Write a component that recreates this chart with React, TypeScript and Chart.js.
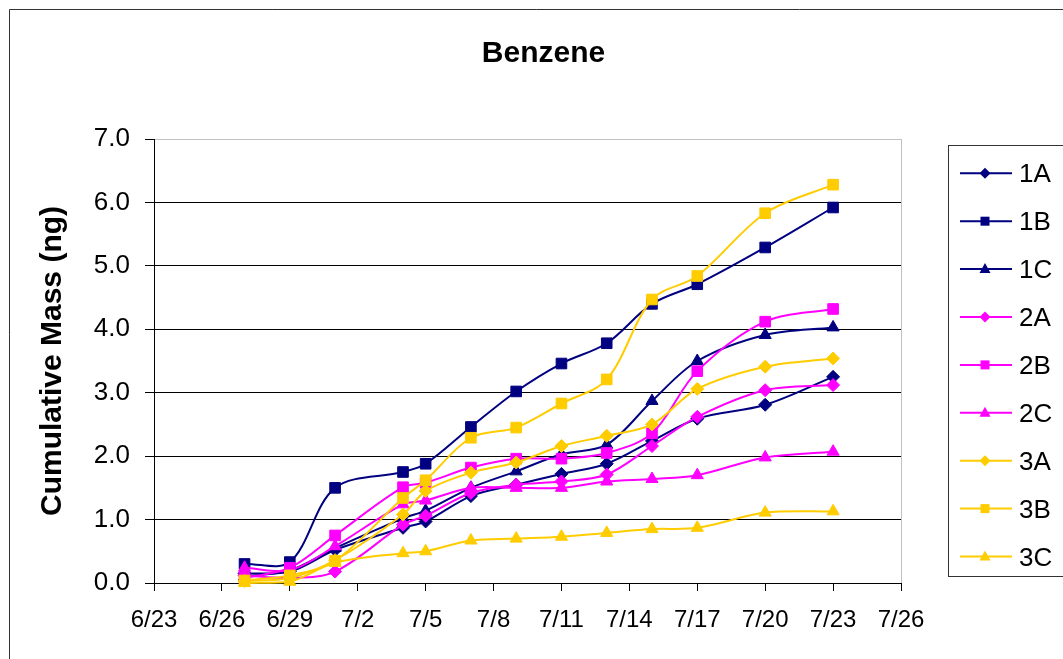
import React, { useEffect, useRef } from "react";
import { Chart, registerables } from "chart.js";

Chart.register(...registerables);

// ---- data ----
const dates = ["6/27", "6/29", "7/1", "7/4", "7/5", "7/7", "7/9", "7/11", "7/13", "7/15", "7/17", "7/20", "7/23"];
const xTickLabels = ["6/23", "6/26", "6/29", "7/2", "7/5", "7/8", "7/11", "7/14", "7/17", "7/20", "7/23", "7/26"];
const yTickMax = 7;

const s1A = [0.15, 0.18, 0.52, 0.87, 0.97, 1.37, 1.55, 1.72, 1.88, 2.24, 2.59, 2.81, 3.25];
const s1B = [0.30, 0.33, 1.50, 1.75, 1.88, 2.46, 3.02, 3.46, 3.78, 4.40, 4.71, 5.29, 5.92];
const s1C = [0.10, 0.20, 0.55, 1.02, 1.14, 1.50, 1.76, 2.03, 2.18, 2.87, 3.50, 3.91, 4.03];
const s2A = [0.12, 0.08, 0.18, 0.92, 1.06, 1.42, 1.55, 1.60, 1.71, 2.16, 2.62, 3.04, 3.12];
const s2B = [0.08, 0.24, 0.75, 1.51, 1.58, 1.82, 1.96, 1.96, 2.05, 2.36, 3.34, 4.12, 4.32];
const s2C = [0.24, 0.20, 0.58, 1.24, 1.30, 1.50, 1.50, 1.50, 1.60, 1.64, 1.70, 1.98, 2.07];
const s3A = [0.03, 0.08, 0.36, 1.08, 1.45, 1.74, 1.90, 2.16, 2.32, 2.50, 3.06, 3.41, 3.54];
const s3B = [0.04, 0.12, 0.35, 1.34, 1.62, 2.29, 2.45, 2.83, 3.21, 4.47, 4.84, 5.83, 6.28];
const s3C = [0.00, 0.02, 0.32, 0.47, 0.50, 0.67, 0.70, 0.73, 0.79, 0.85, 0.87, 1.11, 1.13];

const seriesNames = ["1A", "1B", "1C", "2A", "2B", "2C", "3A", "3B", "3C"];
const seriesValues = [s1A, s1B, s1C, s2A, s2B, s2C, s3A, s3B, s3C];

const NAVY = "#000080";
const MAGENTA = "#FF00FF";
const GOLD = "#FFCC00";
const seriesColors = [NAVY, NAVY, NAVY, MAGENTA, MAGENTA, MAGENTA, GOLD, GOLD, GOLD];
const seriesShapes = ["rectRot", "rect", "triangle", "rectRot", "rect", "triangle", "rectRot", "rect", "triangle"];

const FONT = "'Liberation Sans', Arial, Helvetica, sans-serif";

function dayOf(label: string): number {
  const [m, d] = label.split("/").map(Number);
  return m === 6 ? d : 30 + d;
}

function drawMarker(ctx: CanvasRenderingContext2D, shape: string, x: number, y: number, color: string) {
  ctx.save();
  ctx.fillStyle = color;
  ctx.beginPath();
  if (shape === "rect") {
    ctx.rect(x - 4.5, y - 4.5, 9, 9);
  } else if (shape === "rectRot") {
    ctx.moveTo(x, y - 5.5);
    ctx.lineTo(x + 5.5, y);
    ctx.lineTo(x, y + 5.5);
    ctx.lineTo(x - 5.5, y);
    ctx.closePath();
  } else {
    ctx.moveTo(x, y - 6);
    ctx.lineTo(x + 5.5, y + 4);
    ctx.lineTo(x - 5.5, y + 4);
    ctx.closePath();
  }
  ctx.fill();
  ctx.restore();
}

const decorPlugin = {
  id: "decor",
  beforeDatasetsDraw(chart: any) {
    const { ctx, chartArea } = chart;
    ctx.save();
    ctx.strokeStyle = "#c0c0c0";
    ctx.lineWidth = 1;
    ctx.beginPath();
    ctx.moveTo(chartArea.right + 0.5, chartArea.top);
    ctx.lineTo(chartArea.right + 0.5, chartArea.bottom);
    ctx.stroke();
    ctx.restore();
  },
  afterDraw(chart: any) {
    const { ctx } = chart;
    ctx.save();
    // outer chart border
    ctx.strokeStyle = "#333";
    ctx.lineWidth = 1;
    ctx.beginPath();
    ctx.moveTo(9.5, 659);
    ctx.lineTo(9.5, 9.5);
    ctx.lineTo(1063, 9.5);
    ctx.stroke();

    // title
    ctx.fillStyle = "#000";
    ctx.font = `bold 30px ${FONT}`;
    ctx.textAlign = "center";
    ctx.textBaseline = "alphabetic";
    ctx.fillText("Benzene", 543.5, 62);

    // legend
    ctx.strokeStyle = "#333";
    ctx.strokeRect(948.5, 145.5, 200, 431);
    ctx.font = `26px ${FONT}`;
    ctx.textAlign = "left";
    seriesNames.forEach((name, i) => {
      const y = 173.3 + i * 47.9;
      ctx.strokeStyle = seriesColors[i];
      ctx.lineWidth = 2;
      ctx.beginPath();
      ctx.moveTo(960, y);
      ctx.lineTo(1012, y);
      ctx.stroke();
      drawMarker(ctx, seriesShapes[i], 985, y, seriesColors[i]);
      ctx.fillStyle = "#000";
      ctx.fillText(name, 1019, y + 9);
    });
    ctx.restore();
  },
};

export default function App() {
  const ref = useRef<HTMLCanvasElement | null>(null);

  useEffect(() => {
    if (!ref.current) return;
    const xs = dates.map(dayOf);
    const xMin = dayOf(xTickLabels[0]);
    const xMax = dayOf(xTickLabels[xTickLabels.length - 1]);

    const datasets = seriesNames.map((name, i) => ({
      label: name,
      data: seriesValues[i].map((v, j) => ({ x: xs[j], y: v })),
      borderColor: seriesColors[i],
      backgroundColor: seriesColors[i],
      pointBackgroundColor: seriesColors[i],
      pointBorderColor: seriesColors[i],
      pointBorderWidth: 1,
      pointStyle: seriesShapes[i],
      pointRadius: seriesShapes[i] === "rect" ? 7.5 : seriesShapes[i] === "rectRot" ? 6.5 : 7,
      borderWidth: 2,
      tension: 0.33,
      fill: false,
      clip: false as any,
      order: seriesNames.length - 1 - i,
    }));

    const chart = new Chart(ref.current, {
      type: "line",
      data: { datasets },
      plugins: [decorPlugin],
      options: {
        animation: false,
        responsive: false,
        devicePixelRatio: 1,
        layout: { padding: { left: 35, right: 162, top: 139, bottom: 0 } },
        plugins: {
          legend: { display: false },
          title: { display: false },
          tooltip: { enabled: false },
        },
        scales: {
          x: {
            type: "linear",
            min: xMin,
            max: xMax,
            afterFit: (s: any) => {
              s.height = 76;
            },
            afterBuildTicks: (s: any) => {
              s.ticks = xTickLabels.map((l) => ({ value: dayOf(l) }));
            },
            ticks: {
              autoSkip: false,
              maxRotation: 0,
              padding: 15,
              color: "#000",
              font: { family: FONT, size: 24 },
              callback: (v: any) => {
                const idx = xTickLabels.findIndex((l) => dayOf(l) === v);
                return idx >= 0 ? xTickLabels[idx] : "";
              },
            },
            grid: {
              drawOnChartArea: false,
              drawTicks: true,
              tickLength: 8,
              tickColor: "#000",
              color: "#000",
            },
            border: { display: true, color: "#000", width: 1 },
          },
          y: {
            min: 0,
            max: yTickMax,
            afterFit: (s: any) => {
              s.width = 119;
            },
            ticks: {
              stepSize: 1,
              padding: 15,
              color: "#000",
              font: { family: FONT, size: 26 },
              callback: (v: any) => Number(v).toFixed(1),
            },
            grid: {
              color: (c: any) => (c.tick && c.tick.value === yTickMax ? "#c0c0c0" : "#000"),
              tickColor: "#000",
              tickLength: 9,
              lineWidth: 1,
            },
            border: { display: true, color: "#000", width: 1 },
            title: {
              display: true,
              text: "Cumulative Mass (ng)",
              color: "#000",
              padding: { top: 0, bottom: 0 },
              font: { family: FONT, size: 30, weight: "bold" },
            },
          },
        },
      },
    } as any);

    return () => chart.destroy();
  }, []);

  return (
    <div>
      <canvas
        ref={ref}
        width={1063}
        height={659}
        style={{ position: "absolute", left: 0, top: 0, width: 1063, height: 659, display: "block" }}
      />
    </div>
  );
}
